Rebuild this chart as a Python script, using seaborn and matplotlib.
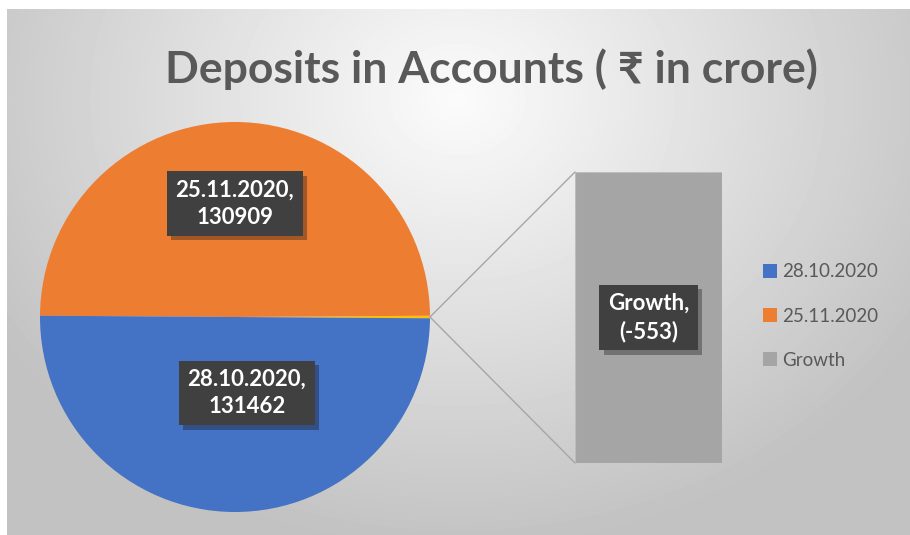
import numpy as np
import matplotlib
matplotlib.use("Agg")
import matplotlib.pyplot as plt
import matplotlib.patheffects as pe
import seaborn as sns
from matplotlib.patches import ConnectionPatch, Patch

# Data
categories = ["28.10.2020", "25.11.2020", "Growth"]
deposits = [131462, 130909]
growth = -553
colors = ["#4472C4", "#ED7D31", "#A5A5A5"]
sliver_color = "#FFC000"

sns.set_theme(style="white")
plt.rcParams["font.family"] = ["Lato", "DejaVu Sans"]

W, H = 910, 535
fig = plt.figure(figsize=(W / 100, H / 100), dpi=100)
fig.patch.set_facecolor("white")

def fx(px):
    return px / W

def fy(py):
    return 1 - py / H

# Background gradient of the chart area
bg = fig.add_axes([fx(7), 0, 1 - fx(7), fy(9)])
yy, xx = np.mgrid[0:526, 0:903]
d = np.sqrt(((xx - 450) / 600) ** 2 + ((yy - 90) / 500) ** 2)
shade = np.clip(0.985 - 0.25 * d, 0.76, 0.985)
bg.imshow(shade, cmap="gray", vmin=0, vmax=1, aspect="auto")
bg.axis("off")

# Pie (the growth sliver sits at 0 degrees)
pie_vals = [abs(growth), deposits[1], deposits[0]]
pie_cols = [sliver_color, colors[1], colors[0]]
sliver_deg = 360 * abs(growth) / sum(pie_vals)
ax = fig.add_axes([fx(40), fy(512), fx(390), 390 / H])
ax.pie(pie_vals, colors=pie_cols, startangle=-sliver_deg / 2,
       counterclock=True, radius=1, wedgeprops=dict(linewidth=0))
ax.set_xlim(-1, 1)
ax.set_ylim(-1, 1)
ax.set_aspect("equal")
ax.axis("off")

# Bar for the growth split
ax2 = fig.add_axes([fx(575), fy(463), fx(147), 291 / H])
sns.barplot(x=["Growth"], y=[abs(growth)], color=colors[2], width=1,
            saturation=1, ax=ax2, edgecolor="#bdbdbd", linewidth=0.8)
ax2.set_xlim(-0.5, 0.5)
ax2.set_ylim(0, abs(growth))
ax2.axis("off")

# Connector lines
for yb in (abs(growth), 0):
    con = ConnectionPatch(xyA=(1, 0), coordsA=ax.transData,
                          xyB=(-0.5, yb), coordsB=ax2.transData,
                          color="#a6a6a6", linewidth=1)
    fig.add_artist(con)

def box_label(axis, x, y, text):
    t = axis.text(x, y, text, color="white", ha="center", va="center",
                  fontsize=16, fontweight="bold", linespacing=1.35, zorder=5,
                  bbox=dict(boxstyle="square,pad=0.38", fc="#404040", ec="none"))
    t.get_bbox_patch().set_path_effects(
        [pe.SimplePatchShadow(offset=(3, -3), alpha=0.35), pe.Normal()])

box_label(ax, 0.0, 0.58, f"{categories[1]},\n{deposits[1]}")
box_label(ax, 0.06, -0.39, f"{categories[0]},\n{deposits[0]}")
box_label(ax2, 0.0, abs(growth) * 0.5, f"{categories[2]},\n({growth})")

# Title
fig.text(fx(491), fy(69), "Deposits in Accounts ( ₹ in crore)", ha="center",
         va="center", fontsize=32, fontweight="bold", color="#595959")

# Legend
handles = [Patch(facecolor=c, edgecolor="none") for c in colors]
leg = fig.legend(handles, categories, loc="center left",
                 bbox_to_anchor=(fx(746), fy(316)), frameon=False,
                 fontsize=13.5, labelspacing=1.45, handlelength=0.75,
                 handleheight=0.75, handletextpad=0.3, labelcolor="#595959")

fig.savefig("out.png", dpi=100)
